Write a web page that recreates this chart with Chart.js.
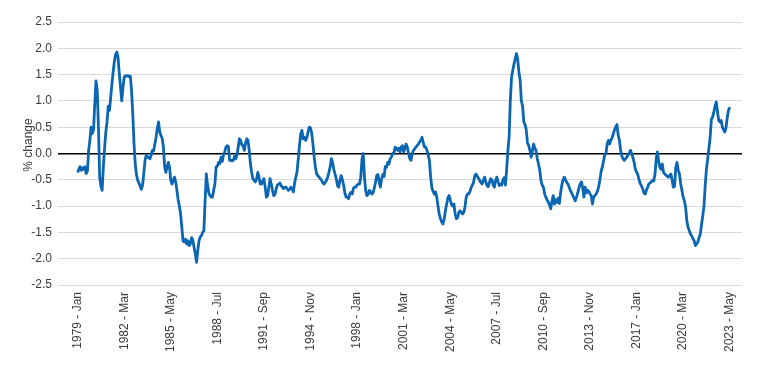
<!DOCTYPE html>
<html>
<head>
<meta charset="utf-8">
<title>% change</title>
<script src="https://cdn.jsdelivr.net/npm/chart.js@4.4.1/dist/chart.umd.min.js"></script>
<style>
html, body { margin: 0; padding: 0; background: #fff; }
#wrap { position: relative; width: 765px; height: 382px; }
</style>
</head>
<body>
<div id="wrap"><canvas id="chart"></canvas></div>
<script>
// monthly series, Jan 1979 .. May 2023 (one row per year)
var pctChange = [
	-0.36, -0.3, -0.25, -0.32, -0.27, -0.3, -0.25, -0.38, -0.33, 0.06, 0.25, 0.5,
	0.38, 0.45, 0.95, 1.38, 1.2, 0.5, -0.45, -0.62, -0.7, -0.25, 0.1, 0.4,
	0.6, 0.9, 0.82, 1.07, 1.33, 1.55, 1.75, 1.88, 1.93, 1.82, 1.52, 1.26,
	1.0, 1.25, 1.45, 1.48, 1.47, 1.48, 1.46, 1.47, 1.2, 0.75, 0.2, -0.2,
	-0.4, -0.51, -0.56, -0.62, -0.68, -0.6, -0.38, -0.13, -0.03, -0.06, -0.08, -0.1,
	-0.03, 0.06, 0.05, 0.18, 0.31, 0.48, 0.6, 0.41, 0.34, 0.29, 0.12, -0.25,
	-0.36, -0.26, -0.17, -0.26, -0.51, -0.58, -0.51, -0.45, -0.54, -0.7, -0.88, -1.0,
	-1.15, -1.4, -1.66, -1.68, -1.63, -1.72, -1.66, -1.75, -1.72, -1.6, -1.65, -1.78,
	-1.9, -2.07, -1.85, -1.66, -1.59, -1.56, -1.5, -1.47, -0.9, -0.39, -0.6, -0.75,
	-0.8, -0.83, -0.83, -0.7, -0.58, -0.26, -0.24, -0.17, -0.19, -0.07, -0.15, -0.03,
	0.03, 0.12, 0.15, 0.13, -0.13, -0.13, -0.14, -0.13, -0.05, -0.1, -0.03, 0.12,
	0.28, 0.25, 0.16, 0.15, 0.06, 0.2, 0.28, 0.25, 0.06, -0.2, -0.36, -0.48,
	-0.51, -0.54, -0.48, -0.36, -0.45, -0.58, -0.58, -0.52, -0.48, -0.64, -0.83, -0.8,
	-0.64, -0.48, -0.58, -0.7, -0.8, -0.78, -0.67, -0.6, -0.58, -0.56, -0.61, -0.64,
	-0.67, -0.64, -0.64, -0.67, -0.7, -0.68, -0.64, -0.67, -0.73, -0.56, -0.45, -0.35,
	-0.1, 0.15, 0.37, 0.44, 0.28, 0.31, 0.25, 0.3, 0.41, 0.5, 0.49, 0.38,
	0.18, -0.07, -0.26, -0.39, -0.42, -0.45, -0.48, -0.51, -0.56, -0.58, -0.55, -0.51,
	-0.45, -0.36, -0.26, -0.1, -0.17, -0.3, -0.39, -0.48, -0.61, -0.64, -0.51, -0.42,
	-0.5, -0.6, -0.75, -0.83, -0.83, -0.86, -0.77, -0.74, -0.77, -0.66, -0.64, -0.64,
	-0.6, -0.58, -0.58, -0.45, -0.1, 0.0, -0.45, -0.7, -0.8, -0.78, -0.7, -0.73,
	-0.77, -0.75, -0.66, -0.55, -0.42, -0.4, -0.54, -0.64, -0.48, -0.4, -0.44, -0.25,
	-0.26, -0.17, -0.2, -0.1, -0.07, 0.0, 0.0, 0.12, 0.1, 0.06, 0.1, 0.03,
	0.12, 0.15, 0.03, 0.1, 0.18, 0.12, 0.0, -0.1, -0.13, 0.0, 0.06, 0.09,
	0.12, 0.15, 0.18, 0.22, 0.25, 0.31, 0.2, 0.12, 0.12, 0.06, -0.03, -0.13,
	-0.45, -0.65, -0.72, -0.77, -0.73, -0.83, -1.0, -1.15, -1.24, -1.3, -1.34, -1.25,
	-1.1, -0.97, -0.85, -0.8, -0.88, -0.97, -1.0, -0.96, -1.15, -1.24, -1.22, -1.12,
	-1.09, -1.12, -1.15, -1.12, -1.02, -0.83, -0.77, -0.77, -0.73, -0.65, -0.6, -0.55,
	-0.42, -0.39, -0.43, -0.47, -0.51, -0.55, -0.58, -0.51, -0.45, -0.54, -0.61, -0.63,
	-0.55, -0.48, -0.5, -0.6, -0.64, -0.51, -0.45, -0.54, -0.61, -0.58, -0.6, -0.5,
	-0.46, -0.6, -0.3, 0.05, 0.3, 1.0, 1.45, 1.58, 1.7, 1.8, 1.9, 1.8,
	1.55, 1.4, 1.0, 0.9, 0.6, 0.55, 0.45, 0.2, 0.15, 0.06, -0.07, 0.05,
	0.18, 0.1, 0.06, -0.1, -0.2, -0.32, -0.51, -0.6, -0.64, -0.77, -0.83, -0.88,
	-0.93, -0.98, -1.05, -0.9, -0.8, -0.96, -0.88, -0.93, -0.85, -0.95, -0.75, -0.6,
	-0.5, -0.45, -0.5, -0.55, -0.58, -0.64, -0.7, -0.75, -0.8, -0.85, -0.9, -0.83,
	-0.75, -0.65, -0.58, -0.54, -0.65, -0.83, -0.64, -0.75, -0.7, -0.72, -0.77, -0.8,
	-0.96, -0.83, -0.8, -0.77, -0.72, -0.64, -0.51, -0.35, -0.26, -0.15, -0.03, 0.0,
	0.18, 0.25, 0.18, 0.25, 0.3, 0.37, 0.45, 0.5, 0.55, 0.35, 0.25, 0.06,
	-0.05, -0.1, -0.13, -0.1, -0.07, -0.03, 0.0, 0.06, 0.0, -0.08, -0.17, -0.3,
	-0.35, -0.4, -0.5, -0.57, -0.62, -0.67, -0.75, -0.77, -0.7, -0.64, -0.58, -0.56,
	-0.54, -0.51, -0.52, -0.4, -0.1, 0.03, -0.15, -0.26, -0.3, -0.2, -0.36, -0.39,
	-0.41, -0.43, -0.45, -0.42, -0.39, -0.51, -0.64, -0.62, -0.26, -0.17, -0.32, -0.39,
	-0.58, -0.7, -0.83, -0.9, -1.02, -1.28, -1.4, -1.47, -1.53, -1.57, -1.62, -1.66,
	-1.75, -1.72, -1.68, -1.6, -1.53, -1.35, -1.18, -1.0, -0.6, -0.3, -0.1, 0.1,
	0.3, 0.65, 0.69, 0.78, 0.9, 0.98, 0.8, 0.63, 0.6, 0.63, 0.5, 0.45,
	0.41, 0.5, 0.69, 0.82, 0.88
];

// x labels, one every 38 months starting at Jan 1979
var tickLabels = ['1979 - Jan', '1982 - Mar', '1985 - May', '1988 - Jul', '1991 - Sep',
	'1994 - Nov', '1998 - Jan', '2001 - Mar', '2004 - May', '2007 - Jul', '2010 - Sep',
	'2013 - Nov', '2017 - Jan', '2020 - Mar', '2023 - May'];
var tickEvery = 38;

var yMin = -2.5;
var yMax = 2.5;
var yStep = 0.5;
var yTitle = '% change';

var points = pctChange.map(function (v, i) {
	return {x: i, y: v};
});
var tickPositions = tickLabels.map(function (l, i) {
	return i * tickEvery;
});

var labelFont = {family: '"Liberation Sans", Arial, sans-serif', size: 12};
var textColor = '#3a3a3a';

// y title drawn by hand, it sits a little above the middle of the plot
var yTitlePlugin = {
	id: 'yTitle',
	afterDraw: function (chart) {
		var ctx = chart.ctx;
		ctx.save();
		ctx.translate(29, 145);
		ctx.rotate(-Math.PI / 2);
		ctx.font = '12px "Liberation Sans", Arial, sans-serif';
		ctx.fillStyle = textColor;
		ctx.textAlign = 'center';
		ctx.textBaseline = 'middle';
		ctx.fillText(yTitle, 0, 0);
		ctx.restore();
	}
};

new Chart(document.getElementById('chart'), {
	type: 'line',
	data: {
		datasets: [{
			data: points,
			borderColor: '#0a66b2',
			borderWidth: 2.8,
			pointRadius: 0,
			tension: 0,
			borderJoinStyle: 'round',
			fill: false
		}]
	},
	plugins: [yTitlePlugin],
	options: {
		responsive: true,
		maintainAspectRatio: false,
		animation: false,
		devicePixelRatio: 1,
		layout: {padding: {top: 22, right: 23, left: 0, bottom: 0}},
		plugins: {legend: {display: false}, tooltip: {enabled: false}},
		scales: {
			x: {
				type: 'linear',
				min: -16,
				max: 542,
				grid: {display: false, drawTicks: false},
				border: {display: false},
				afterBuildTicks: function (axis) {
					axis.ticks = tickPositions.map(function (p) { return {value: p}; });
				},
				afterFit: function (scale) { scale.height = 97; },
				ticks: {
					autoSkip: false,
					maxRotation: 90,
					minRotation: 90,
					padding: 7,
					color: textColor,
					font: labelFont,
					callback: function (value) {
						var i = tickPositions.indexOf(value);
						return i < 0 ? '' : tickLabels[i];
					}
				}
			},
			y: {
				min: yMin,
				max: yMax,
				afterFit: function (scale) { scale.width = 58; },
				border: {display: false},
				grid: {
					drawTicks: false,
					color: function (ctx) {
						return ctx.tick && ctx.tick.value === 0 ? '#000000' : '#d9d9d9';
					},
					lineWidth: function (ctx) {
						return ctx.tick && ctx.tick.value === 0 ? 1.5 : 1;
					}
				},
				ticks: {
					stepSize: yStep,
					padding: 6,
					color: textColor,
					font: labelFont,
					callback: function (value) { return value.toFixed(1); }
				}
			}
		}
	}
});
</script>
</body>
</html>
